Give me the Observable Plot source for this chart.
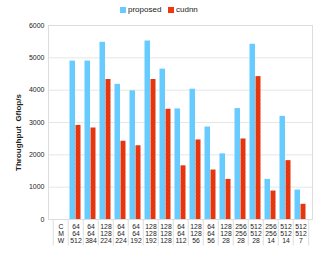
<!DOCTYPE html>
<html>
<head>
<meta charset="utf-8">
<script src="https://cdn.jsdelivr.net/npm/d3@7"></script>
<script src="https://cdn.jsdelivr.net/npm/@observablehq/plot@0.6"></script>
<style>
  body { margin: 0; background: #fff; font-family: "Liberation Sans", Arial, sans-serif; }
  #legend { height: 20px; position: relative; font-size: 8px; color: #222; }
  .item { position: absolute; top: 5px; display: flex; align-items: center; gap: 2px; }
  .sw { width: 6px; height: 6px; display: inline-block; }
</style>
</head>
<body>
<div id="legend"></div>
<div id="chart"></div>
<script>
const C = ["C", "64", "64", "128", "64", "64", "128", "128", "64", "128", "64", "128", "256", "512", "256", "512", "512"];
const M = ["M", "64", "64", "128", "64", "64", "128", "128", "64", "128", "64", "128", "256", "512", "256", "512", "512"];
const W = ["W", "512", "384", "224", "224", "192", "192", "128", "112", "56", "56", "28", "28", "28", "14", "14", "7"];
const proposed = [null, 4900, 4900, 5480, 4180, 3980, 5520, 4650, 3420, 4030, 2860, 2030, 3430, 5420, 1240, 3190, 910];
const cudnn = [null, 2910, 2830, 4330, 2420, 2280, 4330, 3410, 1660, 2460, 1530, 1240, 2490, 4420, 880, 1820, 470];
const seriesNames = ["proposed", "cudnn"];
const yTicks = [0, 1000, 2000, 3000, 4000, 5000, 6000];

const cats = C.map((c, i) => i);
const rows = cats.map(i => ({cat: i, proposed: proposed[i], cudnn: cudnn[i]}));
const labelOf = i => `${C[i]}\n${M[i]}\n${W[i]}`;

const blue = "#66ccff";
const red = "#ee3810";

// legend
const legend = document.getElementById("legend");
const legendX = [120, 168];
const legendCol = [blue, red];
seriesNames.forEach((name, k) => {
  const it = document.createElement("div");
  it.className = "item";
  it.style.left = legendX[k] + "px";
  it.innerHTML = `<span class="sw" style="background:${legendCol[k]}"></span><span>${name}</span>`;
  legend.appendChild(it);
});

const bw = (319 - 48 - 7) / cats.length;

const plot = Plot.plot({
  width: 319,
  height: 233,
  marginTop: 5,
  marginLeft: 48,
  marginRight: 7,
  marginBottom: 34,
  style: {fontFamily: "Liberation Sans, Arial, sans-serif", fontSize: "7px", color: "#222"},
  x: {type: "band", domain: cats, padding: 0, label: null},
  y: {domain: [0, 6000], ticks: yTicks, label: "Throughput  Gflop/s"},
  marks: [
    Plot.gridY(yTicks, {stroke: "#e6e6e6", strokeOpacity: 1}),
    Plot.frame({stroke: "#dddddd"}),
    Plot.ruleX(cats, {x: d => d, dx: -bw / 2, y1: 0, y2: -820, stroke: "#dddddd", clip: false}),
    Plot.ruleX([cats[cats.length - 1]], {x: d => d, dx: bw / 2, y1: 0, y2: -820, stroke: "#dddddd", clip: false}),
    Plot.barY(rows.filter(d => d.proposed != null), {x: "cat", y: "proposed", fill: blue, insetLeft: 1.5, insetRight: 8}),
    Plot.barY(rows.filter(d => d.cudnn != null), {x: "cat", y: "cudnn", fill: "url(#hatch)", insetLeft: 7.5, insetRight: 2.5}),
    Plot.axisY({ticks: yTicks, tickSize: 0, tickPadding: 4, tickFormat: d => String(d), label: "Throughput  Gflop/s", labelAnchor: "center", labelArrow: "none", labelOffset: 33, fontWeight: "normal"}),
    Plot.axisX({tickSize: 0, tickPadding: 4, tickFormat: labelOf, lineHeight: 1.05, fontSize: 6.8})
  ]
});

// hatch pattern
const ns = "http://www.w3.org/2000/svg";
const defs = document.createElementNS(ns, "defs");
defs.innerHTML = `<pattern id="hatch" patternUnits="userSpaceOnUse" width="2.5" height="2.5" patternTransform="rotate(45)">
  <rect width="2.5" height="2.5" fill="${red}"/>
  <line x1="0" y1="0" x2="0" y2="2.5" stroke="#b82a08" stroke-width="0.8"/>
</pattern>`;
plot.insertBefore(defs, plot.firstChild);
// bold y label, shifted slightly down as in the reference
plot.querySelectorAll("[aria-label='y-axis label']").forEach(g => {
  g.setAttribute("font-weight", "bold");
  g.setAttribute("font-size", "8px");
  g.setAttribute("transform", (g.getAttribute("transform") || "") + " translate(0,10)");
});
document.getElementById("chart").appendChild(plot);
</script>
</body>
</html>
